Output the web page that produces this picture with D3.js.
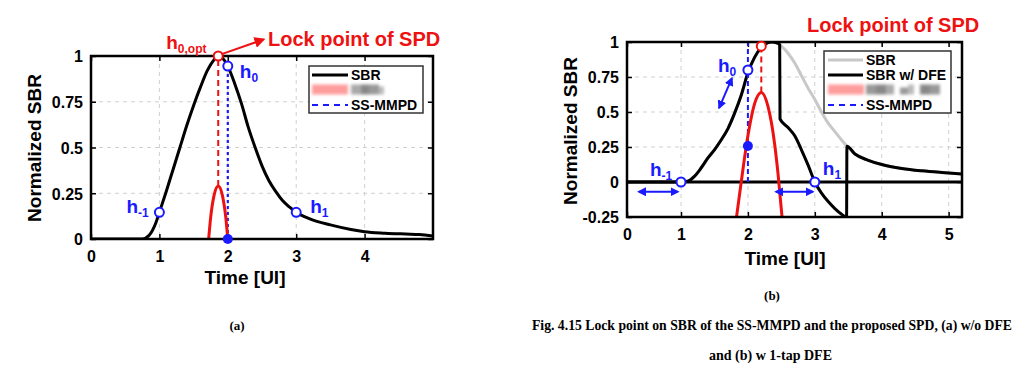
<!DOCTYPE html>
<html>
<head>
<meta charset="utf-8">
<script src="https://cdn.jsdelivr.net/npm/d3@7"></script>
<style>
  body { margin: 0; background: #fff; }
  text { font-family: "Liberation Sans", Arial, sans-serif; font-weight: bold; }
  .cap { font-family: "Liberation Serif", "Times New Roman", serif; }
</style>
</head>
<body>
<div id="chart"></div>
<script>
// ---- data ----
// (a) without DFE
const xTicksA = [0, 1, 2, 3, 4]
const yTicksA = [0, 0.25, 0.5, 0.75, 1]
const sbrA_t = [0, 0.5, 0.75, 0.85, 0.95, 1.0, 1.1, 1.2, 1.3, 1.4, 1.5, 1.6, 1.7, 1.8, 1.85, 1.9, 2.0, 2.1, 2.2, 2.3, 2.4, 2.5, 2.6, 2.7, 2.8, 2.9, 3.0, 3.2, 3.5, 3.8, 4.0, 4.3, 4.6, 4.8, 5.0]
const sbrA_v = [0, 0, 0, 0.02, 0.09, 0.146, 0.26, 0.38, 0.5, 0.62, 0.73, 0.83, 0.92, 0.98, 1.0, 0.995, 0.945, 0.85, 0.74, 0.61, 0.5, 0.4, 0.32, 0.26, 0.21, 0.175, 0.146, 0.11, 0.077, 0.052, 0.04, 0.032, 0.027, 0.024, 0.016]
const spdA_t = [1.72, 1.75, 1.8, 1.86, 1.92, 1.97, 2.0]
const spdA_v = [0, 0.12, 0.24, 0.29, 0.24, 0.12, 0]
const optA = [1.86, 1.0]
const h0A = [2.0, 0.945]
const cursorsA = [[1, 0.146], [3, 0.146]]

// (b) with 1-tap DFE
const xTicksB = [0, 1, 2, 3, 4, 5]
const yTicksB = [-0.25, 0, 0.25, 0.5, 0.75, 1]
const sbrB_t = [0, 1.0, 1.1, 1.2, 1.3, 1.4, 1.5, 1.6, 1.7, 1.8, 1.9, 2.0, 2.1, 2.2, 2.3, 2.35, 2.45, 2.5, 2.6, 2.7, 2.8, 2.9, 3.0, 3.1, 3.2, 3.3, 3.4, 3.48, 3.6, 3.8, 4.0, 4.3, 4.6, 4.9, 5.2]
const sbrB_v = [0, 0, 0.005, 0.04, 0.1, 0.17, 0.23, 0.3, 0.38, 0.49, 0.62, 0.78, 0.89, 0.96, 0.995, 1.0, 0.99, 0.97, 0.92, 0.85, 0.76, 0.67, 0.59, 0.5, 0.42, 0.36, 0.3, 0.255, 0.2, 0.155, 0.125, 0.097, 0.08, 0.068, 0.058]
const dfeB_t = [0, 1.0, 1.1, 1.2, 1.3, 1.4, 1.5, 1.6, 1.7, 1.8, 1.9, 2.0, 2.1, 2.2, 2.3, 2.35, 2.45, 2.475, 2.48, 2.6, 2.7, 2.8, 2.9, 3.0, 3.1, 3.2, 3.3, 3.4, 3.475, 3.48, 3.6, 3.8, 4.0, 4.3, 4.6, 4.9, 5.2]
const dfeB_v = [0, 0, 0.005, 0.04, 0.1, 0.17, 0.23, 0.3, 0.38, 0.49, 0.62, 0.78, 0.89, 0.96, 0.995, 1.0, 0.99, 0.98, 0.45, 0.39, 0.33, 0.23, 0.12, 0.0, -0.08, -0.14, -0.19, -0.23, -0.25, 0.255, 0.2, 0.155, 0.125, 0.097, 0.08, 0.068, 0.058]
const spdB_t = [1.83, 1.9, 2.0, 2.1, 2.2, 2.3, 2.4, 2.45, 2.51]
const spdB_v = [-0.25, 0.0, 0.33, 0.56, 0.64, 0.54, 0.27, 0.06, -0.25]
const optB = [2.2, 0.97]
const h0B = [2.0, 0.8]
const fillB = [2.0, 0.257]
const cursorsB = [[1, 0], [3, 0]]

const red = "#ee1111", blue = "#1a1aff"

const svg = d3.select("#chart").append("svg")
    .attr("width", 1028).attr("height", 382)

const defs = svg.append("defs")
defs.append("filter").attr("id", "blur")
    .attr("x", "-20%").attr("y", "-100%").attr("width", "140%").attr("height", "300%")
  .append("feGaussianBlur").attr("stdDeviation", 1.6)
function arrowMarker(id, color, size) {
    defs.append("marker").attr("id", id)
        .attr("viewBox", "0 0 10 10").attr("refX", 8).attr("refY", 5)
        .attr("markerWidth", size).attr("markerHeight", size)
        .attr("markerUnits", "userSpaceOnUse")
        .attr("orient", "auto-start-reverse")
      .append("path").attr("d", "M0,0 L10,5 L0,10 z").attr("fill", color)
}
arrowMarker("arrRed", red, 11)
arrowMarker("arrBlue", blue, 9)

const line = (x, y) => d3.line().x(d => x(d[0])).y(d => y(d[1])).curve(d3.curveMonotoneX)
const zip = (t, v) => t.map((d, i) => [d, v[i]])

function frame(g, x, y, xt, yt, id) {
    const [x0, x1] = [x.range()[0], x.range()[x.range().length - 1]]
    const [y0, y1] = y.range()
    defs.append("clipPath").attr("id", id).append("rect")
        .attr("x", x0).attr("y", y1).attr("width", x1 - x0).attr("height", y0 - y1)

    // grid
    g.append("g").selectAll("line").data(xt.filter(d => x(d) > x0 + 2 && x(d) < x1 - 2)).join("line")
        .attr("x1", d => x(d)).attr("x2", d => x(d)).attr("y1", y1).attr("y2", y0)
        .attr("stroke", "#d0d0d0").attr("stroke-dasharray", "4,4")
    g.append("g").selectAll("line").data(yt.filter(d => y(d) > y1 + 2 && y(d) < y0 - 2)).join("line")
        .attr("y1", d => y(d)).attr("y2", d => y(d)).attr("x1", x0).attr("x2", x1)
        .attr("stroke", "#d0d0d0").attr("stroke-dasharray", "4,4")

    // axes with inward ticks
    g.append("g").attr("transform", `translate(0,${y0})`)
        .call(d3.axisBottom(x).tickValues(xt).tickFormat(d => String(d)).tickSize(-5).tickPadding(12))
    const ay = g.append("g").attr("transform", `translate(${x0},0)`)
        .call(d3.axisLeft(y).tickValues(yt).tickFormat(d => String(d)).tickSize(-5).tickPadding(8))
    g.append("g").attr("transform", `translate(0,${y1})`)
        .call(d3.axisTop(x).tickValues(xt).tickFormat("").tickSize(-5))
    g.append("g").attr("transform", `translate(${x1},0)`)
        .call(d3.axisRight(y).tickValues(yt).tickFormat("").tickSize(-5))
    g.selectAll(".domain").remove()
    g.selectAll(".tick line").attr("stroke", "#000").attr("stroke-width", 1.5)
    g.selectAll(".tick text").attr("fill", "#000")
        .style("font-size", "16px").style("font-family", '"Liberation Sans", Arial, sans-serif').style("font-weight", "bold")
    ay.selectAll(".tick text").attr("dy", "0.36em")
    return { x0, x1, y0, y1 }
}

function border(g, b) {
    g.append("rect").attr("x", b.x0).attr("y", b.y1).attr("width", b.x1 - b.x0).attr("height", b.y0 - b.y1)
        .attr("fill", "none").attr("stroke", "#000").attr("stroke-width", 2.5)
}

function hLabel(g, x, y, sub, color, size) {
    const t = g.append("text").attr("x", x).attr("y", y).attr("fill", color).style("font-size", size + "px")
    t.append("tspan").text("h")
    t.append("tspan").attr("dy", 4).style("font-size", Math.round(size * 0.63) + "px").text(sub)
}

function openCircle(g, p, x, y, color) {
    g.append("circle").attr("cx", x(p[0])).attr("cy", y(p[1])).attr("r", 4.5)
        .attr("fill", "#fff").attr("stroke", color).attr("stroke-width", 2)
}

function blurredRow(g, lx, ly, tx, blocks) {
    const b = g.append("g").attr("filter", "url(#blur)")
    b.append("rect").attr("x", lx).attr("y", ly - 5).attr("width", 36).attr("height", 10).attr("fill", "#ff9c9c")
    blocks.forEach(c => {
        b.append("rect").attr("x", tx + c[0]).attr("y", ly - 5 + c[2]).attr("width", c[1]).attr("height", 10 - c[2])
            .attr("fill", c[3])
    })
}

// ================= (a) =================
const xA = d3.scaleLinear().domain([0, 5]).range([91, 433])
const yA = d3.scaleLinear().domain([0, 1]).range([239, 56])
const gA = svg.append("g")
const bA = frame(gA, xA, yA, xTicksA, yTicksA, "clipA")
const pA = gA.append("g").attr("clip-path", "url(#clipA)")

pA.append("path").datum(zip(sbrA_t, sbrA_v)).attr("d", line(xA, yA))
    .attr("fill", "none").attr("stroke", "#000").attr("stroke-width", 3)
pA.append("line").attr("x1", xA(optA[0])).attr("x2", xA(optA[0]))
    .attr("y1", yA(d3.max(spdA_v))).attr("y2", yA(optA[1]))
    .attr("stroke", red).attr("stroke-width", 2).attr("stroke-dasharray", "6,4")
pA.append("line").attr("x1", xA(h0A[0])).attr("x2", xA(h0A[0]))
    .attr("y1", yA(0)).attr("y2", yA(h0A[1]))
    .attr("stroke", blue).attr("stroke-width", 2.2).attr("stroke-dasharray", "3,3")
pA.append("path").datum(zip(spdA_t, spdA_v)).attr("d", line(xA, yA))
    .attr("fill", "none").attr("stroke", red).attr("stroke-width", 3)
border(gA, bA)

cursorsA.forEach(p => openCircle(gA, p, xA, yA, blue))
openCircle(gA, h0A, xA, yA, blue)
openCircle(gA, optA, xA, yA, red)
gA.append("circle").attr("cx", xA(h0A[0])).attr("cy", yA(0)).attr("r", 5).attr("fill", blue)

hLabel(gA, xA(1) - 33, yA(0.146) + 1, "-1", blue, 19)
hLabel(gA, xA(2) + 12, yA(h0A[1]) + 12, "0", blue, 19)
hLabel(gA, xA(3) + 14, yA(0.146) + 1, "1", blue, 19)
hLabel(gA, xA(optA[0]) - 52, yA(optA[1]) - 7, "0,opt", red, 19)

gA.append("line").attr("x1", xA(1.91)).attr("y1", yA(1.01)).attr("x2", xA(2.52)).attr("y2", yA(1.09))
    .attr("stroke", red).attr("stroke-width", 2).attr("marker-end", "url(#arrRed)")
gA.append("text").attr("x", 268).attr("y", 46).attr("fill", red).style("font-size", "20px").text("Lock point of SPD")

// legend (a)
const lgA = gA.append("g")
lgA.append("rect").attr("x", 309).attr("y", 66).attr("width", 114).attr("height", 47)
    .attr("fill", "#fff").attr("stroke", "#333").attr("stroke-width", 1.5)
lgA.append("line").attr("x1", 312).attr("x2", 348).attr("y1", 75).attr("y2", 75).attr("stroke", "#000").attr("stroke-width", 3)
lgA.append("text").attr("x", 351).attr("y", 80).style("font-size", "14px").text("SBR")
blurredRow(lgA, 312, 89.5, 351, [[0, 10, 0, "#aaa"], [10, 8, 0, "#888"], [18, 10, 0, "#999"], [28, 5, 2, "#bbb"]])
lgA.append("line").attr("x1", 312).attr("x2", 348).attr("y1", 105).attr("y2", 105)
    .attr("stroke", blue).attr("stroke-width", 2).attr("stroke-dasharray", "6,5")
lgA.append("text").attr("x", 351).attr("y", 110).style("font-size", "14px").text("SS-MMPD")

gA.append("text").attr("x", 245).attr("y", 284).attr("text-anchor", "middle").style("font-size", "19px").text("Time [UI]")
gA.append("text").attr("transform", "translate(41,148) rotate(-90)").attr("text-anchor", "middle")
    .style("font-size", "19px").text("Normalized SBR")

// ================= (b) =================
const xB = d3.scaleLinear().domain([0, 1, 5.2]).range([627, 681, 962])
const yB = d3.scaleLinear().domain([-0.25, 1]).range([217, 42])
const gB = svg.append("g")
const bB = frame(gB, xB, yB, xTicksB, yTicksB, "clipB")
const pB = gB.append("g").attr("clip-path", "url(#clipB)")

pB.append("path").datum(zip(sbrB_t, sbrB_v)).attr("d", line(xB, yB))
    .attr("fill", "none").attr("stroke", "#c8c8c8").attr("stroke-width", 3)
pB.append("line").attr("x1", bB.x0).attr("x2", bB.x1).attr("y1", yB(0)).attr("y2", yB(0))
    .attr("stroke", "#000").attr("stroke-width", 3)
pB.append("path").datum(zip(dfeB_t, dfeB_v)).attr("d", line(xB, yB))
    .attr("fill", "none").attr("stroke", "#000").attr("stroke-width", 3)
pB.append("line").attr("x1", xB(h0B[0])).attr("x2", xB(h0B[0]))
    .attr("y1", yB(0)).attr("y2", yB(1))
    .attr("stroke", blue).attr("stroke-width", 2).attr("stroke-dasharray", "5,3")
pB.append("line").attr("x1", xB(optB[0])).attr("x2", xB(optB[0]))
    .attr("y1", yB(d3.max(spdB_v))).attr("y2", yB(optB[1]))
    .attr("stroke", red).attr("stroke-width", 2).attr("stroke-dasharray", "6,4")
pB.append("path").datum(zip(spdB_t, spdB_v)).attr("d", line(xB, yB))
    .attr("fill", "none").attr("stroke", red).attr("stroke-width", 3)
border(gB, bB)

cursorsB.forEach(p => openCircle(gB, p, xB, yB, blue))
openCircle(gB, h0B, xB, yB, blue)
openCircle(gB, optB, xB, yB, red)
gB.append("circle").attr("cx", xB(fillB[0])).attr("cy", yB(fillB[1])).attr("r", 5).attr("fill", blue)

// double arrows
const dbl = (a, b) => gB.append("line").attr("x1", xB(a[0])).attr("y1", yB(a[1])).attr("x2", xB(b[0])).attr("y2", yB(b[1]))
    .attr("stroke", blue).attr("stroke-width", 2)
    .attr("marker-start", "url(#arrBlue)").attr("marker-end", "url(#arrBlue)")
dbl([0.22, -0.07], [0.94, -0.07])
dbl([2.42, -0.07], [2.97, -0.07])
dbl([1.57, 0.53], [1.76, 0.74])

hLabel(gB, xB(1) - 31, yB(0) - 6, "-1", blue, 19)
hLabel(gB, xB(2) - 30, yB(h0B[1]) + 2, "0", blue, 19)
hLabel(gB, xB(3) + 8, yB(0) - 7, "1", blue, 19)

gB.append("text").attr("x", 807).attr("y", 32).attr("fill", red).style("font-size", "20px").text("Lock point of SPD")

// legend (b)
const lgB = gB.append("g")
lgB.append("rect").attr("x", 824).attr("y", 51).attr("width", 127).attr("height", 62)
    .attr("fill", "#fff").attr("stroke", "#333").attr("stroke-width", 1.5)
lgB.append("line").attr("x1", 828).attr("x2", 863).attr("y1", 60).attr("y2", 60).attr("stroke", "#c8c8c8").attr("stroke-width", 3)
lgB.append("text").attr("x", 866).attr("y", 65).style("font-size", "14px").text("SBR")
lgB.append("line").attr("x1", 828).attr("x2", 863).attr("y1", 75).attr("y2", 75).attr("stroke", "#000").attr("stroke-width", 3)
lgB.append("text").attr("x", 866).attr("y", 80).style("font-size", "14px").text("SBR w/ DFE")
blurredRow(lgB, 828, 89.5, 866, [[0, 10, 0, "#999"], [10, 10, 0, "#888"], [20, 8, 0, "#aaa"], [34, 8, 3, "#999"], [42, 6, 0, "#bbb"], [54, 10, 0, "#888"], [64, 10, 0, "#999"]])
lgB.append("line").attr("x1", 828).attr("x2", 863).attr("y1", 105).attr("y2", 105)
    .attr("stroke", blue).attr("stroke-width", 2).attr("stroke-dasharray", "6,5")
lgB.append("text").attr("x", 866).attr("y", 110).style("font-size", "14px").text("SS-MMPD")

gB.append("text").attr("x", 785).attr("y", 265).attr("text-anchor", "middle").style("font-size", "19px").text("Time [UI]")
gB.append("text").attr("transform", "translate(577,131) rotate(-90)").attr("text-anchor", "middle")
    .style("font-size", "19px").text("Normalized SBR")

// captions
svg.append("text").attr("class", "cap").attr("x", 237).attr("y", 330).attr("text-anchor", "middle")
    .style("font-size", "13px").text("(a)")
svg.append("text").attr("class", "cap").attr("x", 772).attr("y", 300).attr("text-anchor", "middle")
    .style("font-size", "13px").text("(b)")
svg.append("text").attr("class", "cap").attr("x", 532).attr("y", 330)
    .attr("textLength", 480).attr("lengthAdjust", "spacingAndGlyphs")
    .style("font-size", "14px").text("Fig. 4.15 Lock point on SBR of the SS-MMPD and the proposed SPD, (a) w/o DFE")
svg.append("text").attr("class", "cap").attr("x", 709).attr("y", 360)
    .attr("textLength", 123).attr("lengthAdjust", "spacingAndGlyphs")
    .style("font-size", "14px").text("and (b) w 1-tap DFE")
</script>
</body>
</html>
